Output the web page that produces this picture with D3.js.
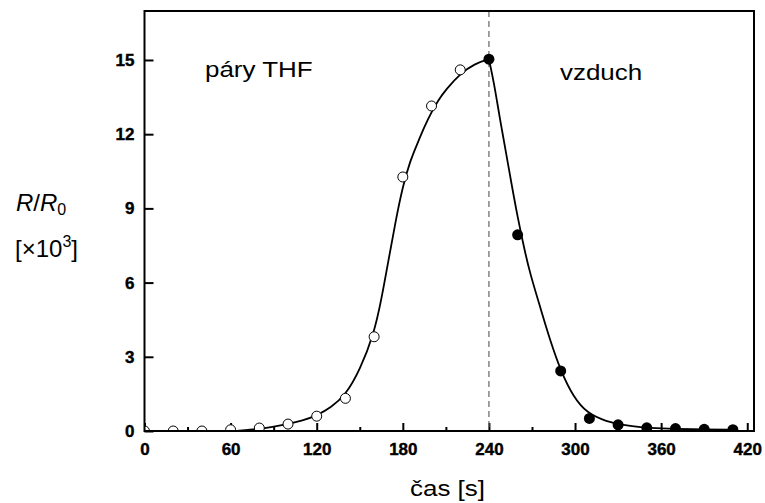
<!DOCTYPE html>
<html>
<head>
	<meta charset="utf-8">
	<title>R/R0 v čase</title>
	<script src="https://d3js.org/d3.v7.min.js"></script>
	<style>
		body { margin: 0; background: #fff; }
		.tick text { font-family: "Liberation Sans", Arial, sans-serif; font-weight: bold; font-size: 17px; stroke: #000; stroke-width: 0.4px; }
		.lbl { font-family: "Liberation Sans", Arial, sans-serif; font-size: 24px; fill: #000; }
		.lbl2 { font-family: "Liberation Sans", Arial, sans-serif; font-size: 22px; fill: #000; }
	</style>
</head>
<body>
	<div class="chart"></div>

	<script type="text/javascript">

		// naměřené body – páry THF (prázdné kroužky)
		var thfTime = [0, 20, 40, 60, 80, 100, 120, 140, 160, 180, 200, 220]
		var thfValue = [0, 0, 0, 0.05, 0.12, 0.28, 0.6, 1.32, 3.81, 10.27, 13.14, 14.6]

		// naměřené body – vzduch (plné kroužky)
		var airTime = [240, 260, 290, 310, 330, 350, 370, 390, 410]
		var airValue = [15.03, 7.93, 2.43, 0.51, 0.25, 0.13, 0.1, 0.07, 0.05]

		// proložená křivka
		var fitRiseTime = [62, 75, 90, 100, 110, 120, 130, 140, 150, 160, 165, 170, 175, 180, 185, 190, 195, 200, 205, 210, 220, 230, 240]
		var fitRiseValue = [0, 0.05, 0.17, 0.28, 0.42, 0.62, 0.95, 1.45, 2.45, 3.95, 5.3, 6.9, 8.5, 9.9, 10.9, 11.6, 12.3, 12.9, 13.4, 13.8, 14.45, 14.85, 15.03]
		var fitFallTime = [240, 243.6, 247.4, 251.6, 255.7, 259.9, 264.8, 268.6, 275.6, 282.5, 290.7, 298.8, 308.2, 322, 334, 345, 360, 380, 412]
		var fitFallValue = [15.03, 14.06, 12.7, 11.36, 10.0, 8.67, 7.32, 6.38, 5.03, 3.68, 2.33, 1.39, 0.72, 0.38, 0.24, 0.15, 0.1, 0.07, 0.05]

		var xTicks = [0, 60, 120, 180, 240, 300, 360, 420]
		var xMinorTicks = [30, 90, 150, 210, 270, 330, 390]
		var yTicks = [0, 3, 6, 9, 12, 15]
		var switchTime = 240

		var width = 765
		var height = 503
		var plot = { left: 144.5, right: 754, top: 11, bottom: 431 }

		var svg = d3
			.select('.chart')
			.append('svg')
			.attr('width', width)
			.attr('height', height)

		/**
		 * měřítka
		 */
		var x = d3.scaleLinear().domain([0, 424.7]).range([plot.left, plot.right])
		var y = d3.scaleLinear().domain([0, 16.98]).range([plot.bottom, plot.top])

		svg.append('clipPath')
			.attr('id', 'clip')
			.append('rect')
			.attr('x', plot.left)
			.attr('y', plot.top)
			.attr('width', plot.right - plot.left)
			.attr('height', plot.bottom - plot.top)

		/**
		 * osy (ticky dovnitř)
		 */
		var xAxis = svg.append('g')
			.attr('transform', `translate(0, ${plot.bottom})`)
			.call(d3.axisBottom(x).tickValues(xTicks).tickSize(-8).tickPadding(12).tickFormat(d3.format('d')))
		xAxis.select('.domain').remove()
		xAxis.selectAll('line').attr('stroke-width', 2)

		var xMinor = svg.append('g')
			.attr('transform', `translate(0, ${plot.bottom})`)
			.call(d3.axisBottom(x).tickValues(xMinorTicks).tickSize(-4).tickFormat(''))
		xMinor.select('.domain').remove()
		xMinor.selectAll('line').attr('stroke-width', 2)

		var yAxis = svg.append('g')
			.attr('transform', `translate(${plot.left}, 0)`)
			.call(d3.axisLeft(y).tickValues(yTicks).tickSize(-9).tickPadding(10).tickFormat(d3.format('d')))
		yAxis.select('.domain').remove()
		yAxis.selectAll('line').attr('stroke-width', 2)

		// přerušovaná čára – přepnutí na vzduch
		svg.append('line')
			.attr('x1', x(switchTime))
			.attr('x2', x(switchTime))
			.attr('y1', plot.top)
			.attr('y2', plot.bottom)
			.attr('stroke', '#666')
			.attr('stroke-width', 1.2)
			.attr('stroke-dasharray', '6,4')

		/**
		 * křivka
		 */
		var line = d3.line()
			.x((d) => x(d[0]))
			.y((d) => y(d[1]))
			.curve(d3.curveBasis)

		var plotG = svg.append('g').attr('clip-path', 'url(#clip)')

		plotG.append('path')
			.datum(d3.zip(fitRiseTime, fitRiseValue))
			.attr('fill', 'none')
			.attr('stroke', '#000')
			.attr('stroke-width', 1.8)
			.attr('d', line)

		plotG.append('path')
			.datum(d3.zip(fitFallTime, fitFallValue))
			.attr('fill', 'none')
			.attr('stroke', '#000')
			.attr('stroke-width', 1.8)
			.attr('d', line)

		/**
		 * body
		 */
		plotG.selectAll('.thf')
			.data(d3.zip(thfTime, thfValue))
			.enter()
			.append('circle')
			.attr('class', 'thf')
			.attr('cx', (d) => x(d[0]))
			.attr('cy', (d) => y(d[1]))
			.attr('r', 5)
			.attr('fill', '#fff')
			.attr('stroke', '#000')
			.attr('stroke-width', 1)

		plotG.selectAll('.air')
			.data(d3.zip(airTime, airValue))
			.enter()
			.append('circle')
			.attr('class', 'air')
			.attr('cx', (d) => x(d[0]))
			.attr('cy', (d) => y(d[1]))
			.attr('r', 5.5)
			.attr('fill', '#000')

		// rámeček
		svg.append('rect')
			.attr('x', plot.left)
			.attr('y', plot.top)
			.attr('width', plot.right - plot.left)
			.attr('height', plot.bottom - plot.top)
			.attr('fill', 'none')
			.attr('stroke', '#000')
			.attr('stroke-width', 2)

		/**
		 * popisky (text v originále je horizontálně roztažený)
		 */
		function stretched(tx, ty, str) {
			svg.append('text')
				.attr('class', 'lbl2')
				.attr('transform', `translate(${tx}, ${ty}) scale(1.18, 1)`)
				.text(str)
		}
		stretched(205, 77, 'páry THF')
		stretched(560, 80, 'vzduch')
		stretched(410, 496, 'čas [s]')

		var rLabel = svg.append('text').attr('class', 'lbl').attr('x', 16).attr('y', 211)
		rLabel.append('tspan').attr('font-style', 'italic').text('R')
		rLabel.append('tspan').text('/')
		rLabel.append('tspan').attr('font-style', 'italic').text('R')
		rLabel.append('tspan').attr('font-size', '16px').attr('dy', 4).text('0')

		var unitLabel = svg.append('text').attr('class', 'lbl').attr('x', 15).attr('y', 257)
		unitLabel.append('tspan').text('[×10')
		unitLabel.append('tspan').attr('font-size', '16px').attr('dy', -10).text('3')
		unitLabel.append('tspan').attr('dy', 10).text(']')

	</script>
</body>
</html>
